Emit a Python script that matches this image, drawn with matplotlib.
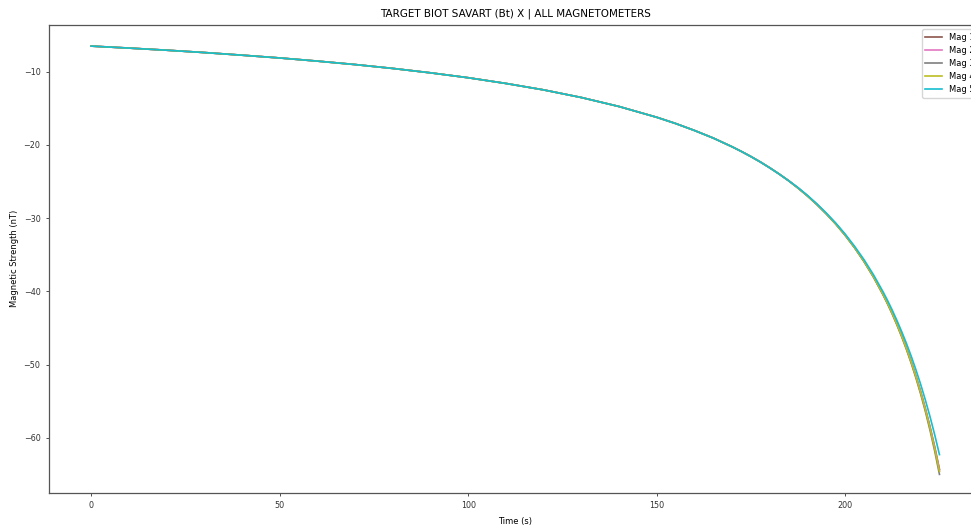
import numpy as np
import matplotlib
matplotlib.use("Agg")
import matplotlib.pyplot as plt

# sample times (s); readings are shared by every magnetometer until ~185 s
TIME_SHARED = [0, 10, 20, 30, 40, 50, 60, 70, 80, 90, 100, 110, 120, 130, 140,
               150, 155, 160, 165, 170, 172.5, 175, 177.5, 180, 182.5, 185]
BT_SHARED = [-6.50, -6.77, -7.06, -7.38, -7.74, -8.12, -8.55, -9.02, -9.55, -10.15,
             -10.82, -11.60, -12.48, -13.52, -14.75, -16.22, -17.07, -18.02, -19.06,
             -20.25, -20.90, -21.59, -22.33, -23.13, -23.98, -24.89]

# final approach, where the sensors start to split apart
TIME_TAIL = [187.5, 190, 192.5, 195, 197.5, 200, 202.5, 205, 207.5, 210, 211.25,
             212.5, 213.75, 215, 216.25, 217.5, 218.75, 220, 221.25, 222.5, 223.75, 225]
MAG_1_TAIL = [-25.89, -26.96, -28.13, -29.40, -30.78, -32.31, -34.01, -35.88, -37.98, -40.33, -41.62,
              -42.99, -44.47, -46.05, -47.73, -49.55, -51.53, -53.65, -55.97, -58.49, -61.26, -64.30]
MAG_2_TAIL = [-25.89, -26.96, -28.14, -29.41, -30.79, -32.33, -34.02, -35.90, -38.00, -40.36, -41.65,
              -43.03, -44.51, -46.10, -47.80, -49.63, -51.61, -53.75, -56.09, -58.63, -61.43, -64.50]
MAG_3_TAIL = [-25.90, -26.98, -28.15, -29.43, -30.82, -32.36, -34.06, -35.95, -38.06, -40.44, -41.74,
              -43.13, -44.63, -46.23, -47.95, -49.80, -51.82, -53.99, -56.37, -58.98, -61.84, -65.00]
MAG_4_TAIL = [-25.89, -26.97, -28.14, -29.41, -30.80, -32.33, -34.03, -35.91, -38.01, -40.38, -41.67,
              -43.05, -44.54, -46.13, -47.83, -49.66, -51.65, -53.80, -56.14, -58.70, -61.51, -64.60]
MAG_5_TAIL = [-25.83, -26.89, -28.05, -29.31, -30.67, -32.18, -33.85, -35.68, -37.73, -40.02, -41.26,
              -42.59, -44.01, -45.52, -47.12, -48.84, -50.70, -52.68, -54.82, -57.12, -59.61, -62.30]

LABELS = ["Mag 1", "Mag 2", "Mag 3", "Mag 4", "Mag 5"]
TAILS = [MAG_1_TAIL, MAG_2_TAIL, MAG_3_TAIL, MAG_4_TAIL, MAG_5_TAIL]
COLORS = ["#8c564b", "#e377c2", "#7f7f7f", "#bcbd22", "#17becf"]

t = np.array(TIME_SHARED + TIME_TAIL)

fig = plt.figure(figsize=(9.71, 5.30), dpi=100)
ax = fig.add_axes([0.0502, 0.0704, 0.961, 0.8824])

for label, tail, color in zip(LABELS, TAILS, COLORS):
    ax.plot(t, np.array(BT_SHARED + tail), color=color, lw=1.2, label=label)

ax.set_xlim(-11.25, 236.25)
ax.set_ylim(-67.5, -3.62)
ax.set_xticks([0, 50, 100, 150, 200])
ax.set_yticks([-10, -20, -30, -40, -50, -60])
ax.tick_params(labelsize=5.8, length=2.5, width=0.6, colors="#333333")
for s in ax.spines.values():
    s.set_color("#555555")
    s.set_linewidth(0.9)

ax.set_title("TARGET BIOT SAVART (Bt) X | ALL MAGNETOMETERS", fontsize=7.5)
ax.set_xlabel("Time (s)", fontsize=6, labelpad=5)
ax.set_ylabel("Magnetic Strength (nT)", fontsize=6, labelpad=3)
ax.legend(loc="upper right", fontsize=6)

fig.savefig("out.png", dpi=100)
